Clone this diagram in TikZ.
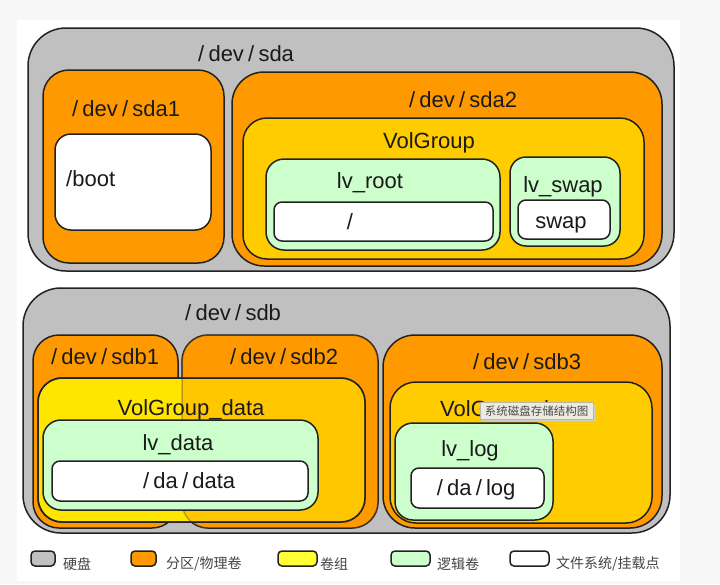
\documentclass[tikz,border=0pt]{standalone}
\usepackage{fontspec}
\setmainfont{Liberation Sans}
\newfontfamily\cjk{Noto Sans CJK SC}
\definecolor{bggray}{HTML}{F7F7F7}
\definecolor{diskgray}{HTML}{C0C0C0}
\definecolor{partorange}{HTML}{FF9900}
\definecolor{vgyellow}{HTML}{FFCC00}
\definecolor{vgdyellow}{HTML}{FFE600}
\definecolor{lvgreen}{HTML}{CCFFCC}
\definecolor{legyellow}{HTML}{FFFF33}
\definecolor{linec}{HTML}{222222}
\definecolor{txtc}{HTML}{1A1A1A}
\definecolor{legtxt}{HTML}{444444}
\definecolor{tipfill}{HTML}{EDEBDF}
\definecolor{tipborder}{HTML}{B8B6A8}
\definecolor{tiptext}{HTML}{4A4A4A}
\newcommand\ws{\makebox[0.66em][c]{/}}
% name, x1, y1, x2, y2, radius, fill
\newcommand\rbox[7]{%
  \node[bx, rounded corners=#6pt, fill=#7, minimum width={#4-#2}, minimum height={#5-#3}]
    (#1) at ({(#2+#4)/2},{(#3+#5)/2}) {};}
\begin{document}
\begin{tikzpicture}[x=1pt,y=-1pt,
  bx/.style={draw=linec, line width=1.5pt, inner sep=0pt, outer sep=0pt},
  lbl/.style={inner sep=0pt, anchor=base, font=\fontsize{22}{24}\selectfont, text=txtc},
  legbox/.style={draw=linec, line width=1.5pt, rounded corners=4pt, inner sep=0pt},
  legtext/.style={inner sep=0pt, anchor=west, font=\cjk\fontsize{14}{16}\selectfont, text=legtxt}]
\useasboundingbox (0,0) rectangle (720,584);
\fill[bggray] (0,0) rectangle (720,584);
\fill[white] (17,20) rectangle (680,581);

% ---------- /dev/sda ----------
\rbox{sda}{28}{28}{674}{271}{38}{diskgray}
\rbox{sdaone}{43}{70}{224}{263}{26}{partorange}
\rbox{boot}{55}{134}{211}{230}{16}{white}
\rbox{sdatwo}{232}{72}{662}{266}{32}{partorange}
\rbox{vg}{243}{118}{644}{259}{24}{vgyellow}
\rbox{lvroot}{266}{159}{500}{250}{18}{lvgreen}
\rbox{rootfs}{274}{202}{493}{241}{8}{white}
\rbox{lvswap}{510}{157}{620}{246}{16}{lvgreen}
\rbox{swapfs}{518}{200}{610}{239}{8}{white}

\node[lbl] (tsda) at (244,61) {\ws dev\ws sda};
\node[lbl] (tsdaone) at (124,116) {\ws dev\ws sda1};
\node[lbl] (tsdatwo) at (461,107) {\ws dev\ws sda2};
\node[lbl, anchor=base west] (tboot) at (66,186) {/boot};
\node[lbl] (tvg) at (429,148) {VolGroup};
\node[lbl] (tlvroot) at (370,188) {lv\_root};
\node[lbl] (tlvswap) at (563,192) {lv\_swap};
\node[lbl] (troot) at (350,229) {\ws};
\node[lbl] (tswap) at (561,228) {swap};

% ---------- /dev/sdb ----------
\rbox{sdb}{23}{288}{670}{533}{38}{diskgray}
\rbox{sdbone}{33}{335}{178}{528}{26}{partorange}
\rbox{sdbtwo}{182}{335}{378}{528}{26}{partorange}
\rbox{vgdata}{38}{378}{365}{522}{24}{vgdyellow}
\node[draw=linec, draw opacity=.3, line width=1.5pt, fill=partorange, fill opacity=.4,
      rounded corners=26pt, inner sep=0pt, minimum width=196, minimum height=193]
      (sdbtwoov) at (280,431.5) {};
\draw[linec, line width=1.5pt, rounded corners=24pt] (vgdata.north west) rectangle (vgdata.south east);
\rbox{lvdata}{43}{420}{318}{510}{18}{lvgreen}
\rbox{datafs}{52}{461}{308}{501}{8}{white}
\rbox{sdbthree}{383}{335}{662}{528}{32}{partorange}
\rbox{vglog}{390}{382}{652}{523}{26}{vgyellow}
\rbox{lvlog}{395}{423}{553}{520}{18}{lvgreen}
\rbox{logfs}{411}{468}{544}{508}{8}{white}

\node[lbl] (tsdb) at (231,320) {\ws dev\ws sdb};
\node[lbl] (tsdbone) at (103,364) {\ws dev\ws sdb1};
\node[lbl] (tsdbtwo) at (282,364) {\ws dev\ws sdb2};
\node[lbl] (tsdbthree) at (525,369) {\ws dev\ws sdb3};
\node[lbl] (tvgdata) at (191,415) {VolGroup\_data};
\node[lbl] (tlvdata) at (178,450) {lv\_data};
\node[lbl] (tdata) at (187,488) {\ws da\ws data};
\node[lbl, anchor=base west] (tvglog) at (440,416) {VolGroup\_log};
\node[lbl] (tlvlog) at (470,456) {lv\_log};
\node[lbl] (tlog) at (474,495) {\ws da\ws log};

% tooltip
\fill[black!18] (482,405) rectangle (595,421);
\node[fill=tipfill, draw=tipborder, line width=.6pt, inner sep=0pt,
      minimum width=113, minimum height=17, font=\cjk\fontsize{11.5}{12}\selectfont,
      text=tiptext] (tip) at (536.5,411) {系统磁盘存储结构图};

% ---------- legend ----------
\node[legbox, fill=diskgray, minimum width=24, minimum height=15] (lgdisk) at (43,558.5) {};
\node[legtext] (ltdisk) at (63,564) {硬盘};
\node[legbox, fill=partorange, minimum width=25, minimum height=15] (lgpart) at (143.5,558.5) {};
\node[legtext] (ltpart) at (166,564) {分区/物理卷};
\node[legbox, fill=legyellow, minimum width=39, minimum height=15] (lgvg) at (297.5,558.5) {};
\node[legtext] (ltvg) at (320,564) {卷组};
\node[legbox, fill=lvgreen, minimum width=39, minimum height=15] (lglv) at (410.5,558.5) {};
\node[legtext] (ltlv) at (437,564) {逻辑卷};
\node[legbox, fill=white, minimum width=39, minimum height=15] (lgfs) at (529.5,558.5) {};
\node[legtext] (ltfs) at (556,564) {文件系统/挂载点};
\end{tikzpicture}
\end{document}
